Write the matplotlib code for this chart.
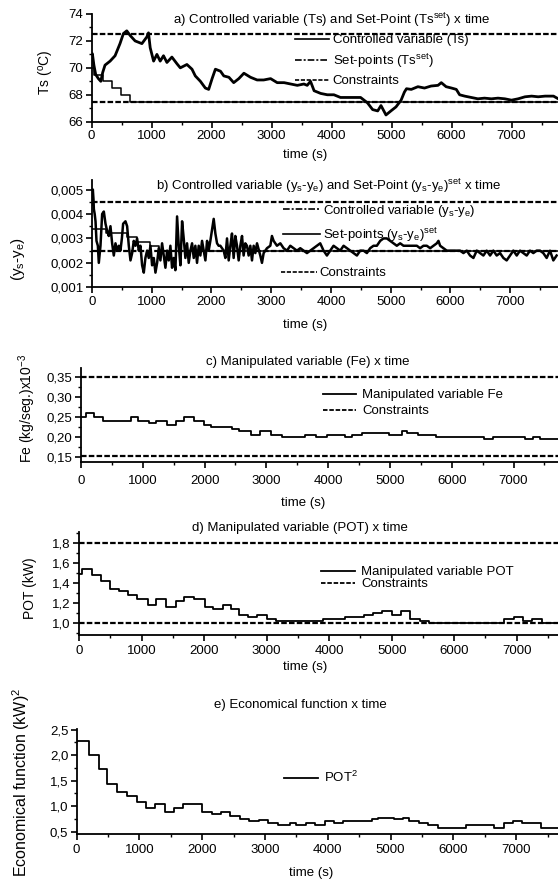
import numpy as np
import matplotlib
matplotlib.use('Agg')
import matplotlib.pyplot as plt
from matplotlib.lines import Line2D
from matplotlib.ticker import MultipleLocator, FuncFormatter

plt.rcParams['font.family'] = ['Liberation Sans', 'DejaVu Sans']
plt.rcParams['mathtext.fontset'] = 'custom'
plt.rcParams['mathtext.rm'] = 'Liberation Sans'
plt.rcParams['mathtext.it'] = 'Liberation Sans:italic'
plt.rcParams['mathtext.default'] = 'regular'

# ---- a) outlet temperature Ts (time s, value degC)
ts_points = [(0, 70.9), (15, 71.05), (40, 70.2), (70, 69.5), (115, 69.2), (155, 69.0),
             (187, 69.66), (225, 70.2), (310, 70.5), (393, 70.9), (475, 71.8), (532, 72.55),
             (588, 72.75), (645, 72.4), (727, 72.0), (840, 71.8), (923, 72.3), (950, 72.6),
             (978, 71.5), (1035, 70.5), (1090, 71.0), (1145, 70.5), (1200, 70.9), (1257, 70.4),
             (1340, 70.8), (1425, 70.3), (1480, 70.0), (1590, 70.25), (1675, 69.9), (1730, 69.4),
             (1815, 69.0), (1897, 68.5), (1953, 68.4), (2010, 69.2), (2065, 69.9), (2150, 69.75),
             (2205, 69.4), (2290, 69.3), (2370, 68.9), (2455, 69.2), (2540, 69.6), (2650, 69.3),
             (2760, 69.1), (2870, 69.1), (2985, 69.2), (3095, 68.9), (3210, 68.9), (3320, 68.8),
             (3430, 68.7), (3540, 68.8), (3595, 68.7), (3650, 69.0), (3710, 68.3), (3820, 68.1),
             (3930, 68.0), (4040, 68.0), (4150, 67.8), (4260, 67.8), (4370, 67.8), (4485, 67.8),
             (4600, 67.4), (4685, 66.9), (4770, 66.8), (4825, 67.2), (4908, 66.5), (4990, 66.8),
             (5075, 67.1), (5160, 67.6), (5215, 68.2), (5250, 68.45), (5330, 68.4), (5440, 68.6),
             (5550, 68.5), (5660, 68.65), (5775, 68.7), (5830, 68.9), (5910, 68.6), (6000, 68.5),
             (6080, 68.4), (6135, 68.0), (6220, 67.9), (6330, 67.8), (6440, 67.7), (6550, 67.75),
             (6665, 67.7), (6775, 67.75), (6890, 67.7), (7000, 67.6), (7110, 67.7), (7225, 67.85),
             (7335, 67.9), (7445, 67.85), (7560, 67.9), (7700, 67.9), (7780, 67.7)]
ts_set_t = [0, 40, 190, 340, 490, 640]
ts_set_v = [70.0, 69.5, 69.0, 68.5, 68.0, 67.5]
ts_limits = [72.5, 67.5]

# ---- b) ys-ye (values x 1e-3)
dy_points = [(0, 4.4), (14, 5.0), (25, 4.6), (31, 4.2), (45, 4.0), (59, 3.7), (75, 2.9), (98, 2.7),
             (114, 2.0), (142, 2.7), (170, 4.0), (198, 4.1), (226, 3.6), (254, 3.3), (281, 3.1),
             (309, 3.5), (337, 2.8), (365, 2.3), (393, 2.8), (421, 2.5), (449, 2.7), (476, 2.5),
             (500, 3.0), (521, 3.6), (560, 3.7), (588, 3.5), (616, 2.7), (644, 2.1), (672, 2.4),
             (699, 2.9), (727, 2.7), (755, 3.0), (783, 2.5), (811, 2.7), (839, 1.9), (867, 1.6),
             (894, 2.2), (922, 2.5), (950, 2.2), (978, 2.7), (1006, 1.9), (1034, 2.2), (1062, 1.6),
             (1090, 2.0), (1117, 2.6), (1145, 2.1), (1173, 2.8), (1201, 2.3), (1229, 1.8),
             (1257, 2.5), (1285, 2.1), (1312, 2.7), (1340, 1.8), (1368, 2.2), (1396, 1.7),
             (1424, 3.9), (1452, 2.7), (1480, 1.9), (1508, 3.7), (1535, 3.0), (1563, 2.2),
             (1591, 2.8), (1619, 2.0), (1647, 2.5), (1675, 2.8), (1703, 2.2), (1730, 2.7),
             (1758, 2.0), (1786, 2.7), (1814, 2.3), (1842, 2.9), (1870, 2.5), (1898, 2.1),
             (1926, 2.9), (1953, 2.5), (1981, 2.9), (2037, 3.8), (2065, 3.2), (2093, 2.8),
             (2120, 2.7), (2148, 2.7), (2204, 2.5), (2232, 2.2), (2260, 3.0), (2288, 2.1),
             (2316, 2.7), (2343, 3.2), (2371, 2.2), (2399, 3.1), (2427, 2.7), (2455, 2.1),
             (2483, 2.7), (2511, 3.1), (2538, 2.3), (2566, 2.8), (2594, 2.7), (2622, 2.3),
             (2650, 2.7), (2678, 2.1), (2706, 2.7), (2734, 2.4), (2762, 2.8), (2817, 2.3),
             (2845, 2.0), (2873, 2.4), (2929, 2.6), (2985, 2.7), (3012, 3.1), (3040, 2.9),
             (3096, 2.7), (3152, 2.8), (3207, 2.6), (3263, 2.5), (3319, 2.7), (3375, 2.6),
             (3430, 2.5), (3486, 2.6), (3542, 2.5), (3598, 2.4), (3653, 2.5), (3709, 2.6),
             (3765, 2.7), (3820, 2.8), (3876, 2.5), (3932, 2.3), (3988, 2.5), (4043, 2.7),
             (4099, 2.6), (4155, 2.5), (4211, 2.7), (4266, 2.6), (4322, 2.5), (4378, 2.4),
             (4434, 2.3), (4489, 2.5), (4545, 2.5), (4601, 2.4), (4656, 2.6), (4712, 2.7),
             (4768, 2.7), (4824, 2.9), (4879, 3.0), (4935, 3.0), (4991, 2.9), (5046, 2.8),
             (5102, 2.7), (5158, 2.8), (5214, 2.7), (5270, 2.7), (5325, 2.7), (5381, 2.7),
             (5437, 2.7), (5492, 2.6), (5548, 2.7), (5604, 2.7), (5660, 2.6), (5715, 2.7),
             (5771, 2.8), (5799, 2.9), (5827, 2.7), (5882, 2.6), (5938, 2.5), (5994, 2.5),
             (6050, 2.5), (6105, 2.5), (6161, 2.5), (6217, 2.4), (6273, 2.5), (6328, 2.3),
             (6384, 2.2), (6440, 2.5), (6496, 2.4), (6551, 2.3), (6607, 2.5), (6663, 2.3),
             (6718, 2.5), (6774, 2.3), (6830, 2.4), (6886, 2.2), (6941, 2.1), (6997, 2.3),
             (7053, 2.5), (7109, 2.3), (7164, 2.5), (7220, 2.4), (7276, 2.3), (7331, 2.5),
             (7387, 2.4), (7443, 2.5), (7499, 2.5), (7554, 2.4), (7610, 2.2), (7666, 2.5),
             (7722, 2.1), (7777, 2.3)]
dy_set_t = [0, 226, 588, 755, 978, 1117]
dy_set_v = [3.37, 3.21, 3.04, 2.87, 2.69, 2.5]
dy_limits = [4.5, 2.5]

# ---- c) Fe
fe_t = [0, 75, 209, 358, 803, 920, 1097, 1214, 1386, 1535, 1669, 1830, 1990, 2108, 2450, 2560,
        2755, 2889, 3075, 3250, 3625, 3800, 3975, 4265, 4380, 4555, 4990, 5190, 5280, 5450,
        5740, 6525, 6670, 7190, 7310, 7425]
fe_v = [0.25, 0.26, 0.25, 0.24, 0.25, 0.24, 0.235, 0.24, 0.23, 0.24, 0.25, 0.24, 0.23, 0.225,
        0.22, 0.215, 0.205, 0.215, 0.205, 0.20, 0.205, 0.20, 0.205, 0.20, 0.205, 0.21, 0.205,
        0.215, 0.21, 0.205, 0.20, 0.195, 0.20, 0.195, 0.20, 0.195]
fe_limits = [0.35, 0.152]

# ---- d) POT
pot_t = [0, 45, 204, 349, 489, 634, 780, 930, 1102, 1226, 1387, 1548, 1683, 1844, 2016, 2140,
         2301, 2435, 2560, 2700, 2850, 3000, 3150, 3900, 4250, 4550, 4700, 4850, 5000, 5150,
         5300, 5450, 5600, 6800, 6950, 7100, 7250, 7400]
pot_v = [1.49, 1.54, 1.48, 1.42, 1.34, 1.32, 1.28, 1.24, 1.18, 1.24, 1.16, 1.22, 1.26, 1.24,
         1.16, 1.14, 1.18, 1.14, 1.08, 1.06, 1.08, 1.04, 1.02, 1.04, 1.06, 1.08, 1.10, 1.12,
         1.08, 1.12, 1.04, 1.02, 1.0, 1.04, 1.06, 1.02, 1.04, 1.0]
pot_limits = [1.8, 1.0]

# ---- e) economical function
eco_t = [0, 192, 362, 486, 644, 797, 955, 1100, 1250, 1400, 1550, 1700, 2000, 2150, 2300, 2450,
         2600, 2750, 2900, 3050, 3200, 3400, 3500, 3650, 3800, 3950, 4100, 4250, 4700, 4800,
         5050, 5200, 5300, 5450, 5600, 5750, 6200, 6650, 6800, 6950, 7100, 7400]
eco_v = [2.27, 2.0, 1.72, 1.43, 1.28, 1.2, 1.08, 0.97, 1.05, 0.89, 0.97, 1.05, 0.88, 0.84, 0.89,
         0.80, 0.74, 0.70, 0.73, 0.66, 0.62, 0.66, 0.62, 0.66, 0.62, 0.70, 0.66, 0.70, 0.74, 0.77,
         0.74, 0.77, 0.70, 0.66, 0.62, 0.58, 0.62, 0.58, 0.66, 0.70, 0.66, 0.58]

W, H = 558, 882
FS = 9.5
DASH = (0, (2.5, 1.0))
DASHDOT = (0, (4, 1.2, 1.2, 1.2))

fig = plt.figure(figsize=(W / 100, H / 100), dpi=100)


def px_axes(left, bottom, top):
    return fig.add_axes([left / W, 1 - bottom / H, (W - left) / W, (bottom - top) / H])


def style(ax, xmax, ylim, major, minor, fmt, pad=2):
    ax.set_xlim(0, xmax)
    ax.set_ylim(*ylim)
    for s in ['top', 'right']:
        ax.spines[s].set_visible(False)
    for s in ['left', 'bottom']:
        ax.spines[s].set_linewidth(1.3)
    ax.xaxis.set_major_locator(MultipleLocator(1000))
    ax.xaxis.set_minor_locator(MultipleLocator(500))
    ax.yaxis.set_major_locator(MultipleLocator(major))
    ax.yaxis.set_minor_locator(MultipleLocator(minor))
    ax.yaxis.set_major_formatter(FuncFormatter(lambda v, p: fmt.format(v).replace('.', ',')))
    ax.tick_params(which='major', direction='out', length=4, width=1.2, labelsize=FS, pad=2)
    ax.tick_params(axis='x', which='major', pad=pad)
    ax.tick_params(which='minor', direction='out', length=2.5, width=1.0)


def steps(ax, t, v, xmax, **kw):
    ax.step(list(t) + [xmax], list(v) + [v[-1]], where='post', color='black', **kw)


def limits(ax, vals):
    for v in vals:
        ax.axhline(v, color='black', lw=1.6, ls=DASH)


def ftext(x, y, s, **kw):
    fig.text(x / W, 1 - y / H, s, ha='center', va='center', **kw)


def legend(ax, handles, x, y, spacing, hl=2.6, pad=0.3):
    leg = ax.legend(handles=handles, loc='upper left', bbox_to_anchor=(x / W, 1 - y / H),
                    bbox_transform=fig.transFigure, frameon=False, fontsize=FS,
                    borderpad=0, borderaxespad=0, handlelength=hl, handletextpad=pad,
                    labelspacing=spacing)
    return leg


# a)
xa = 7775
ax = px_axes(91.5, 121.7, 14)
style(ax, xa, (66, 74), 2, 1, '{:.0f}')
limits(ax, ts_limits)
steps(ax, ts_set_t, ts_set_v, xa, lw=1.1)
ax.plot([p[0] for p in ts_points], [p[1] for p in ts_points], color='black', lw=2.0)
legend(ax, [Line2D([], [], color='black', lw=1.2, label='Controlled variable (Ts)'),
            Line2D([], [], color='black', lw=1.2, ls=DASHDOT, label='Set-points (Ts$^{set}$)'),
            Line2D([], [], color='black', lw=1.2, ls=DASH, label='Constraints')],
       295, 34, 0.4, hl=2.6, pad=0.25)
ftext(332, 20, 'a) Controlled variable (Ts) and Set-Point (Ts$^{set}$) x time', fontsize=FS)
ftext(305, 155, 'time (s)', fontsize=FS)
ftext(46, 72, 'Ts ($^o$C)', fontsize=FS + 0.5, rotation=90)

# b)
xb = 7800
ax = px_axes(92, 287.3, 180)
style(ax, xb, (0.001, 0.00539), 0.001, 0.0005, '{:.3f}')
limits(ax, np.array(dy_limits) * 1e-3)
steps(ax, dy_set_t, list(np.array(dy_set_v) * 1e-3), xb, lw=1.1)
ax.plot([p[0] for p in dy_points], [p[1] * 1e-3 for p in dy_points], color='black', lw=1.8)
leg1 = legend(ax, [Line2D([], [], color='black', lw=1.2, ls=DASHDOT,
                          label='Controlled variable (y$_s$-y$_e$)'),
                   Line2D([], [], color='black', lw=1.2, label='Set-points (y$_s$-y$_e$)$^{set}$')],
              283, 203, 0.5, hl=2.8, pad=0.2)
ax.add_artist(leg1)
legend(ax, [Line2D([], [], color='black', lw=1.2, ls=DASH, label='Constraints')],
       281, 267, 0.4, hl=2.7, pad=0.2)
ftext(328, 186, 'b) Controlled variable (y$_s$-y$_e$) and Set-Point (y$_s$-y$_e$)$^{set}$ x time',
      fontsize=FS)
ftext(305, 325, 'time (s)', fontsize=FS)
ftext(18, 259, '(y$_s$-y$_e$)', fontsize=FS + 1.5, rotation=90)

# c)
xc = 7720
ax = px_axes(81, 462.3, 368.3)
style(ax, xc, (0.136, 0.371), 0.05, 0.025, '{:.2f}', pad=5.5)
limits(ax, fe_limits)
steps(ax, fe_t, fe_v, xc, lw=1.3)
legend(ax, [Line2D([], [], color='black', lw=1.3, label='Manipulated variable Fe'),
            Line2D([], [], color='black', lw=1.3, ls=DASH, label='Constraints')],
       323, 389, 0.3, hl=2.5, pad=0.45)
ftext(308, 362, 'c) Manipulated variable (Fe) x time', fontsize=FS)
ftext(303, 503, 'time (s)', fontsize=FS)
ftext(27, 408, 'Fe (kg/seg.)x10$^{-3}$', fontsize=FS + 0.5, rotation=90)

# d)
xd = 7660
ax = px_axes(79, 635, 532.3)
style(ax, xd, (0.877, 1.904), 0.2, 0.1, '{:.1f}', pad=3)
limits(ax, pot_limits)
steps(ax, pot_t, pot_v, xd, lw=1.3)
legend(ax, [Line2D([], [], color='black', lw=1.3, label='Manipulated variable POT'),
            Line2D([], [], color='black', lw=1.3, ls=DASH, label='Constraints')],
       321, 566, 0.0, hl=2.6, pad=0.45)
ftext(300, 528, 'd) Manipulated variable (POT) x time', fontsize=FS)
ftext(305, 667, 'time (s)', fontsize=FS)
ftext(30, 588, 'POT (kW)', fontsize=FS + 0.5, rotation=90)

# e)
xe = 7666
ax = px_axes(76.6, 834.3, 729)
style(ax, xe, (0.447, 2.51), 0.5, 0.25, '{:.1f}', pad=3)
steps(ax, eco_t, eco_v, xe, lw=1.3)
legend(ax, [Line2D([], [], color='black', lw=1.3, label='POT$^2$')],
       284, 770, 0.3, hl=2.6, pad=0.45)
ftext(300, 705, 'e) Economical function x time', fontsize=FS)
ftext(311, 873, 'time (s)', fontsize=FS)
ftext(21, 782, 'Economical function (kW)$^2$', fontsize=FS + 2, rotation=90)

fig.savefig('out.png', dpi=100)
